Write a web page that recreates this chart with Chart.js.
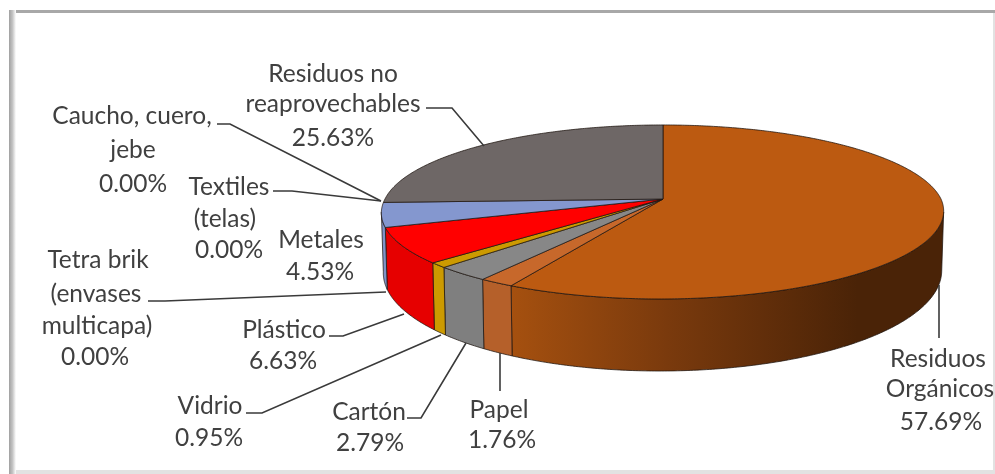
<!DOCTYPE html>
<html lang="es">

<head>
    <meta charset="UTF-8">
    <title>Residuos</title>
    <script src="https://cdnjs.cloudflare.com/ajax/libs/Chart.js/4.4.1/chart.umd.min.js"></script>
    <style>
        html, body { margin: 0; padding: 0; background: #fff; overflow: hidden; }
        canvas { display: block; }
    </style>
</head>

<body>
    <canvas id="chartResiduos" width="995" height="474"></canvas>
    <script>
        var categories = ['Residuos Orgánicos', 'Papel', 'Cartón', 'Vidrio', 'Plástico', 'Metales',
            'Tetra brik (envases multicapa)', 'Textiles (telas)', 'Caucho, cuero, jebe', 'Residuos no reaprovechables'];
        var values = [57.69, 1.76, 2.79, 0.95, 6.63, 4.53, 0.00, 0.00, 0.00, 25.63];
        var topColors = ['#BC5A11', '#C7682B', '#878787', '#CC9A00', '#FF0000', '#8497CF', '#8497CF', '#8497CF', '#8497CF', '#6E6766'];
        var wallColors = ['#A5500F', '#B5602A', '#7F7F7F', '#CC9A00', '#E60000', '#7F93C8', '#7F93C8', '#7F93C8', '#7F93C8', '#5E5756'];

        // wrapped label text, the percentage line is added from values
        var labelLines = [['Residuos', 'Orgánicos'], ['Papel'], ['Cartón'], ['Vidrio'], ['Plástico'], ['Metales'],
            ['Tetra brik', '(envases', 'multicapa)'], ['Textiles', '(telas)'], ['Caucho, cuero,', 'jebe'], ['Residuos no', 'reaprovechables']];
        var labelX = [[938, 940, 941], [499, 502], [369, 370], [210, 209], [284, 283], [321, 320],
            [98, 96, 97, 95], [229, 225, 229], [132, 133, 133], [333, 333, 333]];
        var labelY = [[367, 397, 430], [418, 448], [420, 451], [414, 446], [338, 369], [248, 280],
            [268, 302, 334, 365], [195, 227, 258], [124, 158, 192], [82, 112, 146]];
        var leaders = [[[939, 285], [939, 338]], [[500, 353], [500, 391]], [[407, 418], [421, 418], [466, 343]],
            [[246, 413], [262, 413], [441, 335]], [[329, 336], [343, 336], [404, 314]], [],
            [[148, 301], [165, 301], [386, 292]], [[273, 191], [292, 191], [381, 201]],
            [[217, 124], [230, 124], [381, 201]], [[426, 108], [452, 108], [484, 146]]];

        // tilted disc: k is the perspective, the rest scale the outer radius
        var k = 0.149;
        var squashTop = 0.306;
        var squashBase = 0.349;
        var shrinkBase = 0.993;
        var frontShear = 0.012;
        var baseDrop = 58;
        var edgeLimit = Math.asin(k);

        function project(arc, angle, isBase) {
            var u = Math.cos(angle);
            var v = Math.sin(angle);
            var w = 1 - k * v;
            var r = arc.outerRadius;
            var shear = r * frontShear * Math.max(v, 0);
            if (isBase) {
                return { x: arc.x + r * shrinkBase * u / w - shear, y: arc.y + baseDrop + r * squashBase * v / w };
            }
            return { x: arc.x + r * u / w - shear, y: arc.y + r * squashTop * v / w };
        }

        function traceRim(ctx, arc, from, to, isBase) {
            var steps = Math.max(2, Math.ceil(Math.abs(to - from) / 0.01));
            for (var i = 0; i <= steps; i++) {
                var p = project(arc, from + (to - from) * i / steps, isBase);
                ctx.lineTo(p.x, p.y);
            }
        }

        var frame = {
            id: 'frame',
            beforeDraw: function (chart) {
                var ctx = chart.ctx;
                ctx.save();
                ctx.fillStyle = '#E2E2E2';
                ctx.fillRect(9, 470, 986, 4);
                ctx.fillRect(993, 12, 2, 462);
                ctx.fillStyle = '#A8A8A8';
                ctx.fillRect(9, 10, 986, 3);
                var shade = ctx.createLinearGradient(9, 0, 16, 0);
                shade.addColorStop(0, '#A0A0A0');
                shade.addColorStop(0.5, '#C4C4C4');
                shade.addColorStop(1, '#FFFFFF');
                ctx.fillStyle = shade;
                ctx.fillRect(9, 10, 7, 464);
                ctx.restore();
            }
        };

        var pie3d = {
            id: 'pie3d',
            beforeDatasetsDraw: function (chart) {
                var ctx = chart.ctx;
                var arcs = chart.getDatasetMeta(0).data;
                ctx.save();
                ctx.lineWidth = 1;
                ctx.lineJoin = 'round';
                ctx.strokeStyle = 'rgba(30,20,15,0.75)';

                // side walls, only the part turned to the viewer
                arcs.forEach(function (arc, i) {
                    var from = Math.max(arc.startAngle, edgeLimit);
                    var to = Math.min(arc.endAngle, Math.PI - edgeLimit);
                    if (to <= from) return;
                    ctx.beginPath();
                    traceRim(ctx, arc, from, to, false);
                    traceRim(ctx, arc, to, from, true);
                    ctx.closePath();
                    if (i === 0) {
                        var left = project(arc, to, true).x;
                        var fade = ctx.createLinearGradient(left, 0, arc.x + arc.outerRadius * 0.7, 0);
                        fade.addColorStop(0, wallColors[0]);
                        fade.addColorStop(0.45, '#7A3A0D');
                        fade.addColorStop(1, '#4A2307');
                        ctx.fillStyle = fade;
                    } else {
                        ctx.fillStyle = wallColors[i];
                    }
                    ctx.fill();
                    ctx.stroke();
                });

                // top faces
                arcs.forEach(function (arc, i) {
                    if (arc.endAngle - arc.startAngle <= 0) return;
                    ctx.beginPath();
                    ctx.moveTo(arc.x, arc.y);
                    traceRim(ctx, arc, arc.startAngle, arc.endAngle, false);
                    ctx.closePath();
                    ctx.fillStyle = topColors[i];
                    ctx.fill();
                    ctx.stroke();
                });
                ctx.restore();
                return false;
            },
            afterDraw: function (chart) {
                var ctx = chart.ctx;
                ctx.save();
                ctx.strokeStyle = '#3A3A3A';
                ctx.lineWidth = 1.6;
                leaders.forEach(function (pts) {
                    if (!pts.length) return;
                    ctx.beginPath();
                    pts.forEach(function (p, j) {
                        if (j === 0) ctx.moveTo(p[0], p[1]);
                        else ctx.lineTo(p[0], p[1]);
                    });
                    ctx.stroke();
                });
                ctx.fillStyle = '#404040';
                ctx.font = '24.5px Lato';
                ctx.textAlign = 'center';
                ctx.textBaseline = 'alphabetic';
                labelLines.forEach(function (lines, i) {
                    var all = lines.concat(values[i].toFixed(2) + '%');
                    all.forEach(function (text, j) {
                        ctx.fillText(text, labelX[i][j], labelY[i][j]);
                    });
                });
                ctx.restore();
            }
        };

        var chartResiduos = new Chart(document.getElementById('chartResiduos').getContext('2d'), {
            type: 'pie',
            data: {
                labels: categories,
                datasets: [{ data: values, backgroundColor: topColors, borderWidth: 0 }]
            },
            options: {
                responsive: false,
                animation: false,
                radius: 278,
                layout: { padding: { left: 331, bottom: 76 } },
                plugins: { legend: { display: false }, tooltip: { enabled: false } }
            },
            plugins: [frame, pie3d]
        });
    </script>
</body>

</html>
